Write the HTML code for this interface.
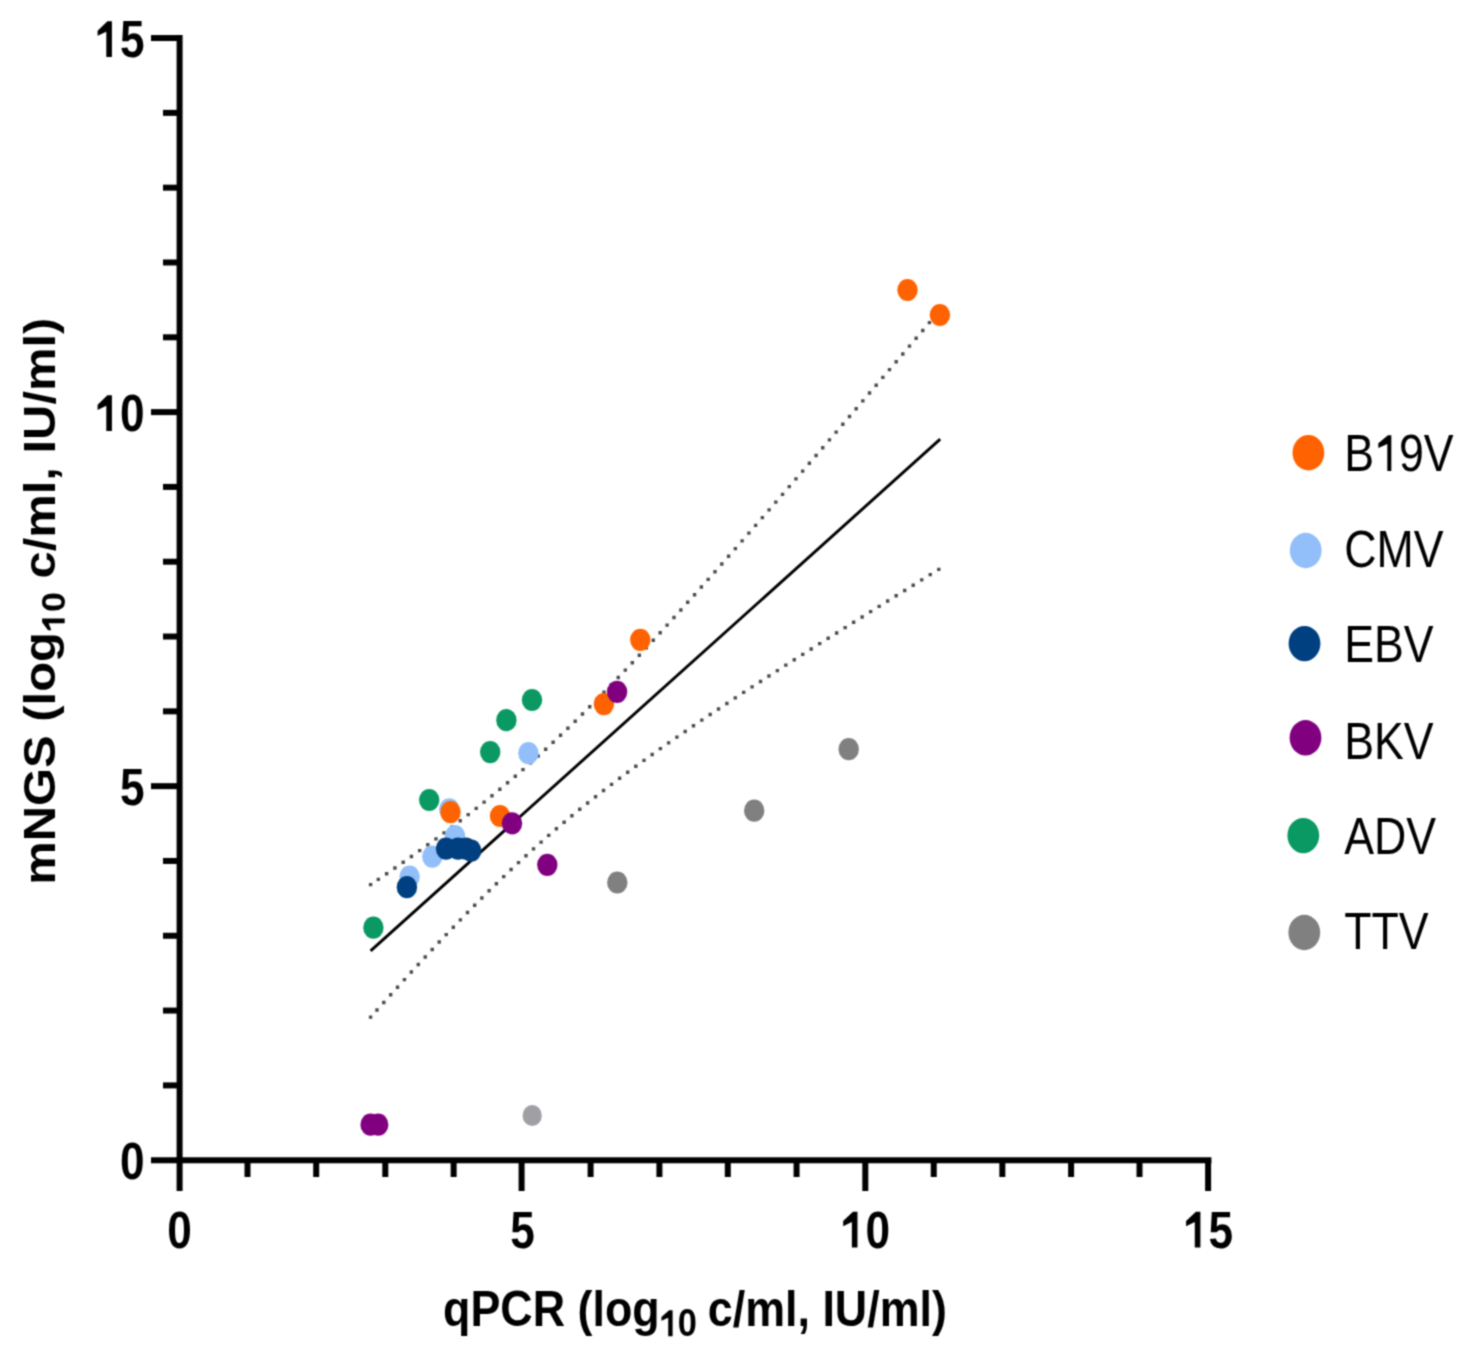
<!DOCTYPE html>
<html><head><meta charset="utf-8"><style>
html,body{margin:0;padding:0;background:#fff;}
svg{display:block;}
</style></head><body>
<svg width="1472" height="1361" viewBox="0 0 1472 1361"><defs><filter id="soft" x="0" y="0" width="1472" height="1361" filterUnits="userSpaceOnUse" color-interpolation-filters="sRGB"><feConvolveMatrix order="3" kernelMatrix="0.04840 0.12320 0.04840 0.12320 0.31360 0.12320 0.04840 0.12320 0.04840" edgeMode="duplicate" preserveAlpha="true"/></filter></defs><g filter="url(#soft)"><rect width="1472" height="1361" fill="#fff"/><path fill="#4a4a4a" d="M368.90,882.93h3.4v3.4h-3.4zM376.64,877.69h3.4v3.4h-3.4zM384.94,872.01h3.4v3.4h-3.4zM393.22,866.31h3.4v3.4h-3.4zM401.49,860.56h3.4v3.4h-3.4zM409.72,854.78h3.4v3.4h-3.4zM417.93,848.95h3.4v3.4h-3.4zM426.12,843.07h3.4v3.4h-3.4zM434.27,837.15h3.4v3.4h-3.4zM442.39,831.17h3.4v3.4h-3.4zM450.47,825.14h3.4v3.4h-3.4zM458.52,819.04h3.4v3.4h-3.4zM466.53,812.89h3.4v3.4h-3.4zM474.49,806.67h3.4v3.4h-3.4zM482.41,800.38h3.4v3.4h-3.4zM490.28,794.02h3.4v3.4h-3.4zM498.11,787.59h3.4v3.4h-3.4zM505.88,781.09h3.4v3.4h-3.4zM513.60,774.52h3.4v3.4h-3.4zM521.27,767.88h3.4v3.4h-3.4zM528.89,761.16h3.4v3.4h-3.4zM536.45,754.38h3.4v3.4h-3.4zM543.96,747.52h3.4v3.4h-3.4zM551.42,740.60h3.4v3.4h-3.4zM558.83,733.62h3.4v3.4h-3.4zM566.20,726.58h3.4v3.4h-3.4zM573.51,719.48h3.4v3.4h-3.4zM580.78,712.33h3.4v3.4h-3.4zM588.01,705.12h3.4v3.4h-3.4zM595.20,697.87h3.4v3.4h-3.4zM602.36,690.58h3.4v3.4h-3.4zM609.47,683.25h3.4v3.4h-3.4zM616.56,675.87h3.4v3.4h-3.4zM623.61,668.47h3.4v3.4h-3.4zM630.63,661.03h3.4v3.4h-3.4zM637.63,653.56h3.4v3.4h-3.4zM644.60,646.06h3.4v3.4h-3.4zM651.55,638.54h3.4v3.4h-3.4zM658.48,631.00h3.4v3.4h-3.4zM665.39,623.43h3.4v3.4h-3.4zM672.28,615.84h3.4v3.4h-3.4zM679.15,608.24h3.4v3.4h-3.4zM686.01,600.62h3.4v3.4h-3.4zM692.85,592.98h3.4v3.4h-3.4zM699.68,585.33h3.4v3.4h-3.4zM706.50,577.67h3.4v3.4h-3.4zM713.30,569.99h3.4v3.4h-3.4zM720.09,562.30h3.4v3.4h-3.4zM726.88,554.60h3.4v3.4h-3.4zM733.65,546.89h3.4v3.4h-3.4zM740.41,539.17h3.4v3.4h-3.4zM747.17,531.44h3.4v3.4h-3.4zM753.92,523.71h3.4v3.4h-3.4zM760.66,515.97h3.4v3.4h-3.4zM767.39,508.22h3.4v3.4h-3.4zM774.12,500.46h3.4v3.4h-3.4zM780.84,492.70h3.4v3.4h-3.4zM787.56,484.93h3.4v3.4h-3.4zM794.27,477.16h3.4v3.4h-3.4zM800.97,469.38h3.4v3.4h-3.4zM807.67,461.59h3.4v3.4h-3.4zM814.37,453.80h3.4v3.4h-3.4zM821.06,446.01h3.4v3.4h-3.4zM827.75,438.22h3.4v3.4h-3.4zM834.44,430.42h3.4v3.4h-3.4zM841.12,422.61h3.4v3.4h-3.4zM847.79,414.80h3.4v3.4h-3.4zM854.47,406.99h3.4v3.4h-3.4zM861.14,399.18h3.4v3.4h-3.4zM867.81,391.36h3.4v3.4h-3.4zM874.47,383.54h3.4v3.4h-3.4zM881.14,375.72h3.4v3.4h-3.4zM887.80,367.90h3.4v3.4h-3.4zM894.46,360.07h3.4v3.4h-3.4zM901.11,352.24h3.4v3.4h-3.4zM907.77,344.41h3.4v3.4h-3.4zM914.42,336.58h3.4v3.4h-3.4zM921.07,328.74h3.4v3.4h-3.4zM927.72,320.91h3.4v3.4h-3.4zM934.36,313.07h3.4v3.4h-3.4z"/><path fill="#4a4a4a" d="M368.90,1015.47h3.4v3.4h-3.4zM375.25,1008.36h3.4v3.4h-3.4zM382.10,1000.73h3.4v3.4h-3.4zM388.96,993.11h3.4v3.4h-3.4zM395.83,985.51h3.4v3.4h-3.4zM402.73,977.93h3.4v3.4h-3.4zM409.64,970.37h3.4v3.4h-3.4zM416.57,962.83h3.4v3.4h-3.4zM423.53,955.31h3.4v3.4h-3.4zM430.51,947.82h3.4v3.4h-3.4zM437.51,940.36h3.4v3.4h-3.4zM444.54,932.92h3.4v3.4h-3.4zM451.60,925.52h3.4v3.4h-3.4zM458.69,918.16h3.4v3.4h-3.4zM465.81,910.83h3.4v3.4h-3.4zM472.97,903.55h3.4v3.4h-3.4zM480.17,896.31h3.4v3.4h-3.4zM487.41,889.12h3.4v3.4h-3.4zM494.69,881.98h3.4v3.4h-3.4zM502.02,874.89h3.4v3.4h-3.4zM509.39,867.86h3.4v3.4h-3.4zM516.81,860.89h3.4v3.4h-3.4zM524.28,853.99h3.4v3.4h-3.4zM531.81,847.15h3.4v3.4h-3.4zM539.38,840.38h3.4v3.4h-3.4zM547.01,833.68h3.4v3.4h-3.4zM554.69,827.05h3.4v3.4h-3.4zM562.42,820.49h3.4v3.4h-3.4zM570.21,814.01h3.4v3.4h-3.4zM578.04,807.60h3.4v3.4h-3.4zM585.93,801.26h3.4v3.4h-3.4zM593.86,794.98h3.4v3.4h-3.4zM601.83,788.78h3.4v3.4h-3.4zM609.85,782.63h3.4v3.4h-3.4zM617.90,776.55h3.4v3.4h-3.4zM625.99,770.53h3.4v3.4h-3.4zM634.12,764.57h3.4v3.4h-3.4zM642.28,758.65h3.4v3.4h-3.4zM650.47,752.79h3.4v3.4h-3.4zM658.69,746.97h3.4v3.4h-3.4zM666.93,741.19h3.4v3.4h-3.4zM675.20,735.46h3.4v3.4h-3.4zM683.48,729.76h3.4v3.4h-3.4zM691.79,724.09h3.4v3.4h-3.4zM700.12,718.46h3.4v3.4h-3.4zM708.46,712.86h3.4v3.4h-3.4zM716.82,707.28h3.4v3.4h-3.4zM725.19,701.73h3.4v3.4h-3.4zM733.58,696.21h3.4v3.4h-3.4zM741.98,690.70h3.4v3.4h-3.4zM750.39,685.22h3.4v3.4h-3.4zM758.81,679.76h3.4v3.4h-3.4zM767.24,674.31h3.4v3.4h-3.4zM775.68,668.88h3.4v3.4h-3.4zM784.13,663.46h3.4v3.4h-3.4zM792.58,658.06h3.4v3.4h-3.4zM801.04,652.67h3.4v3.4h-3.4zM809.51,647.30h3.4v3.4h-3.4zM817.99,641.93h3.4v3.4h-3.4zM826.47,636.58h3.4v3.4h-3.4zM834.95,631.23h3.4v3.4h-3.4zM843.44,625.90h3.4v3.4h-3.4zM851.94,620.57h3.4v3.4h-3.4zM860.44,615.25h3.4v3.4h-3.4zM868.94,609.94h3.4v3.4h-3.4zM877.45,604.64h3.4v3.4h-3.4zM885.96,599.34h3.4v3.4h-3.4zM894.47,594.05h3.4v3.4h-3.4zM902.99,588.77h3.4v3.4h-3.4zM911.51,583.49h3.4v3.4h-3.4zM920.04,578.22h3.4v3.4h-3.4zM928.56,572.95h3.4v3.4h-3.4zM937.09,567.68h3.4v3.4h-3.4z"/><line x1="370.6" y1="950.9" x2="940.2" y2="439.2" stroke="#000" stroke-width="2.9"/><ellipse cx="532.2" cy="1115.5" rx="9.6" ry="10.6" fill="#A09FA4"/><ellipse cx="848.7" cy="749.2" rx="10.2" ry="11.1" fill="#808080"/><ellipse cx="754.2" cy="810.7" rx="10.2" ry="11.1" fill="#808080"/><ellipse cx="617.3" cy="882.5" rx="10.2" ry="11.1" fill="#808080"/><ellipse cx="532" cy="700" rx="10.2" ry="11.1" fill="#0A9962"/><ellipse cx="506.4" cy="720.2" rx="10.2" ry="11.1" fill="#0A9962"/><ellipse cx="490.2" cy="752.1" rx="10.2" ry="11.1" fill="#0A9962"/><ellipse cx="429.2" cy="800" rx="10.2" ry="11.1" fill="#0A9962"/><ellipse cx="373.4" cy="927.7" rx="10.2" ry="11.1" fill="#0A9962"/><ellipse cx="528.4" cy="753.2" rx="10.2" ry="11.1" fill="#92BFF9"/><ellipse cx="449.3" cy="809.3" rx="10.2" ry="11.1" fill="#92BFF9"/><ellipse cx="455" cy="836" rx="10.2" ry="11.1" fill="#92BFF9"/><ellipse cx="432.3" cy="856.6" rx="10.2" ry="11.1" fill="#92BFF9"/><ellipse cx="409.6" cy="876.6" rx="10.2" ry="11.1" fill="#92BFF9"/><ellipse cx="446" cy="848.6" rx="10.2" ry="11.1" fill="#004080"/><ellipse cx="458" cy="848.6" rx="10.2" ry="11.1" fill="#004080"/><ellipse cx="466" cy="848.6" rx="10.2" ry="11.1" fill="#004080"/><ellipse cx="471.2" cy="850.6" rx="10.2" ry="11.1" fill="#004080"/><ellipse cx="406.9" cy="887.2" rx="10.2" ry="11.1" fill="#004080"/><ellipse cx="907.5" cy="290" rx="10.2" ry="11.1" fill="#FF6200"/><ellipse cx="939.9" cy="315" rx="10.2" ry="11.1" fill="#FF6200"/><ellipse cx="640.3" cy="639.8" rx="10.2" ry="11.1" fill="#FF6200"/><ellipse cx="603.9" cy="704.1" rx="10.2" ry="11.1" fill="#FF6200"/><ellipse cx="450.5" cy="812.2" rx="10.2" ry="11.1" fill="#FF6200"/><ellipse cx="500" cy="816" rx="10.2" ry="11.1" fill="#FF6200"/><ellipse cx="617.1" cy="691.8" rx="10.2" ry="11.1" fill="#800080"/><ellipse cx="512" cy="823.3" rx="10.2" ry="11.1" fill="#800080"/><ellipse cx="547.3" cy="864.8" rx="10.2" ry="11.1" fill="#800080"/><ellipse cx="370.6" cy="1124.7" rx="10.2" ry="11.1" fill="#800080"/><ellipse cx="378.2" cy="1124.7" rx="10.2" ry="11.1" fill="#800080"/><g stroke="#000" stroke-width="6.0" fill="none"><line x1="179.6" y1="35.05" x2="179.6" y2="1191"/><line x1="151" y1="1160.2" x2="1211.4" y2="1160.2"/><line x1="163" y1="1085.39" x2="179.6" y2="1085.39"/><line x1="163" y1="1010.58" x2="179.6" y2="1010.58"/><line x1="163" y1="935.77" x2="179.6" y2="935.77"/><line x1="163" y1="860.96" x2="179.6" y2="860.96"/><line x1="151" y1="786.15" x2="179.6" y2="786.15"/><line x1="163" y1="711.34" x2="179.6" y2="711.34"/><line x1="163" y1="636.53" x2="179.6" y2="636.53"/><line x1="163" y1="561.72" x2="179.6" y2="561.72"/><line x1="163" y1="486.91" x2="179.6" y2="486.91"/><line x1="151" y1="412.10" x2="179.6" y2="412.10"/><line x1="163" y1="337.29" x2="179.6" y2="337.29"/><line x1="163" y1="262.48" x2="179.6" y2="262.48"/><line x1="163" y1="187.67" x2="179.6" y2="187.67"/><line x1="163" y1="112.86" x2="179.6" y2="112.86"/><line x1="151" y1="38.05" x2="179.6" y2="38.05"/><line x1="247.50" y1="1160.2" x2="247.50" y2="1177"/><line x1="316.20" y1="1160.2" x2="316.20" y2="1177"/><line x1="385.30" y1="1160.2" x2="385.30" y2="1177"/><line x1="453.65" y1="1160.2" x2="453.65" y2="1177"/><line x1="521.60" y1="1160.2" x2="521.60" y2="1191"/><line x1="590.60" y1="1160.2" x2="590.60" y2="1177"/><line x1="659.41" y1="1160.2" x2="659.41" y2="1177"/><line x1="727.80" y1="1160.2" x2="727.80" y2="1177"/><line x1="796.58" y1="1160.2" x2="796.58" y2="1177"/><line x1="865.30" y1="1160.2" x2="865.30" y2="1191"/><line x1="933.75" y1="1160.2" x2="933.75" y2="1177"/><line x1="1002.34" y1="1160.2" x2="1002.34" y2="1177"/><line x1="1071.10" y1="1160.2" x2="1071.10" y2="1177"/><line x1="1139.51" y1="1160.2" x2="1139.51" y2="1177"/><line x1="1208.10" y1="1160.2" x2="1208.10" y2="1191"/></g><text id="t0" transform="translate(144.5,57.05) scale(0.85,1)" font-family="Liberation Sans" font-size="52" font-weight="bold" text-anchor="end"><tspan fill="transparent">1</tspan>5</text><g transform="translate(144.5,57.05) scale(0.85,1)"><path transform="translate(-57.85,0.00) scale(0.02539,-0.02539)" d="M509,0L509,1000L106,835L106,1040L560,1409L769,1409L769,0Z"/></g><text id="t1" transform="translate(144.5,431.10) scale(0.85,1)" font-family="Liberation Sans" font-size="52" font-weight="bold" text-anchor="end"><tspan fill="transparent">1</tspan>0</text><g transform="translate(144.5,431.10) scale(0.85,1)"><path transform="translate(-57.85,0.00) scale(0.02539,-0.02539)" d="M509,0L509,1000L106,835L106,1040L560,1409L769,1409L769,0Z"/></g><text id="t2" transform="translate(144.5,805.15) scale(0.85,1)" font-family="Liberation Sans" font-size="52" font-weight="bold" text-anchor="end">5</text><text id="t3" transform="translate(144.5,1179.20) scale(0.85,1)" font-family="Liberation Sans" font-size="52" font-weight="bold" text-anchor="end">0</text><text id="t4" transform="translate(179.60,1247.5) scale(0.85,1)" font-family="Liberation Sans" font-size="52" font-weight="bold" text-anchor="middle">0</text><text id="t5" transform="translate(522.53,1247.5) scale(0.85,1)" font-family="Liberation Sans" font-size="52" font-weight="bold" text-anchor="middle">5</text><text id="t6" transform="translate(865.47,1247.5) scale(0.85,1)" font-family="Liberation Sans" font-size="52" font-weight="bold" text-anchor="middle"><tspan fill="transparent">1</tspan>0</text><g transform="translate(865.47,1247.5) scale(0.85,1)"><path transform="translate(-28.93,0.00) scale(0.02539,-0.02539)" d="M509,0L509,1000L106,835L106,1040L560,1409L769,1409L769,0Z"/></g><text id="t7" transform="translate(1208.40,1247.5) scale(0.85,1)" font-family="Liberation Sans" font-size="52" font-weight="bold" text-anchor="middle"><tspan fill="transparent">1</tspan>5</text><g transform="translate(1208.40,1247.5) scale(0.85,1)"><path transform="translate(-28.93,0.00) scale(0.02539,-0.02539)" d="M509,0L509,1000L106,835L106,1040L560,1409L769,1409L769,0Z"/></g><text id="t8" transform="translate(695,1326.3) scale(0.9057,1)" font-family="Liberation Sans" font-size="49.5" font-weight="bold" text-anchor="middle">qPCR (log<tspan font-size="38" dy="10" fill="transparent">1</tspan><tspan font-size="38" dx="-1.1">0</tspan><tspan dx="-1.8" dy="-10"> c/ml, IU/ml)</tspan></text><g transform="translate(695,1326.3) scale(0.9057,1)"><path transform="translate(-39.00,10.00) scale(0.01855,-0.01855)" d="M509,0L509,1000L106,835L106,1040L560,1409L769,1409L769,0Z"/></g><text id="t9" transform="translate(55.3,601.2) scale(0.91,1) rotate(-90)" font-family="Liberation Sans" font-size="48.9" font-weight="bold" text-anchor="middle">mNGS (log<tspan font-size="36" dy="10.3"><tspan fill="transparent">1</tspan>0</tspan><tspan dy="-10.3"> c/ml, IU/ml)</tspan></text><g transform="translate(55.3,601.2) scale(0.91,1) rotate(-90)"><path transform="translate(-30.92,10.30) scale(0.01758,-0.01758)" d="M509,0L509,1000L106,835L106,1040L560,1409L769,1409L769,0Z"/></g><text id="t10" transform="translate(1344.2,470.9) scale(0.86,1)" font-family="Liberation Sans" font-size="52" font-weight="normal" text-anchor="start">B<tspan fill="transparent">1</tspan>9V</text><g transform="translate(1344.2,470.9) scale(0.86,1)"><path transform="translate(34.68,0.00) scale(0.02539,-0.02539)" d="M609,0L609,1060L197,900L197,1087L640,1409L792,1409L792,0Z"/></g><text id="t11" transform="translate(1344.2,566.5) scale(0.86,1)" font-family="Liberation Sans" font-size="52" font-weight="normal" text-anchor="start">CMV</text><text id="t12" transform="translate(1344.2,661.5) scale(0.86,1)" font-family="Liberation Sans" font-size="52" font-weight="normal" text-anchor="start">EBV</text><text id="t13" transform="translate(1344.2,759) scale(0.86,1)" font-family="Liberation Sans" font-size="52" font-weight="normal" text-anchor="start">BKV</text><text id="t14" transform="translate(1344.2,853.5) scale(0.86,1)" font-family="Liberation Sans" font-size="52" font-weight="normal" text-anchor="start">ADV</text><text id="t15" transform="translate(1344.2,949.3) scale(0.86,1)" font-family="Liberation Sans" font-size="52" font-weight="normal" text-anchor="start">TTV</text><ellipse cx="1308.4" cy="452.7" rx="15.9" ry="17.7" fill="#FF6200"/><ellipse cx="1305.7" cy="550.5" rx="15.9" ry="17.7" fill="#92BFF9"/><ellipse cx="1304.5" cy="643.6" rx="15.9" ry="17.7" fill="#004080"/><ellipse cx="1305.5" cy="737.8" rx="15.9" ry="17.7" fill="#800080"/><ellipse cx="1303.3" cy="835.6" rx="15.9" ry="17.7" fill="#0A9962"/><ellipse cx="1304.3" cy="932.5" rx="15.9" ry="17.7" fill="#808080"/></g></svg>
</body></html>
